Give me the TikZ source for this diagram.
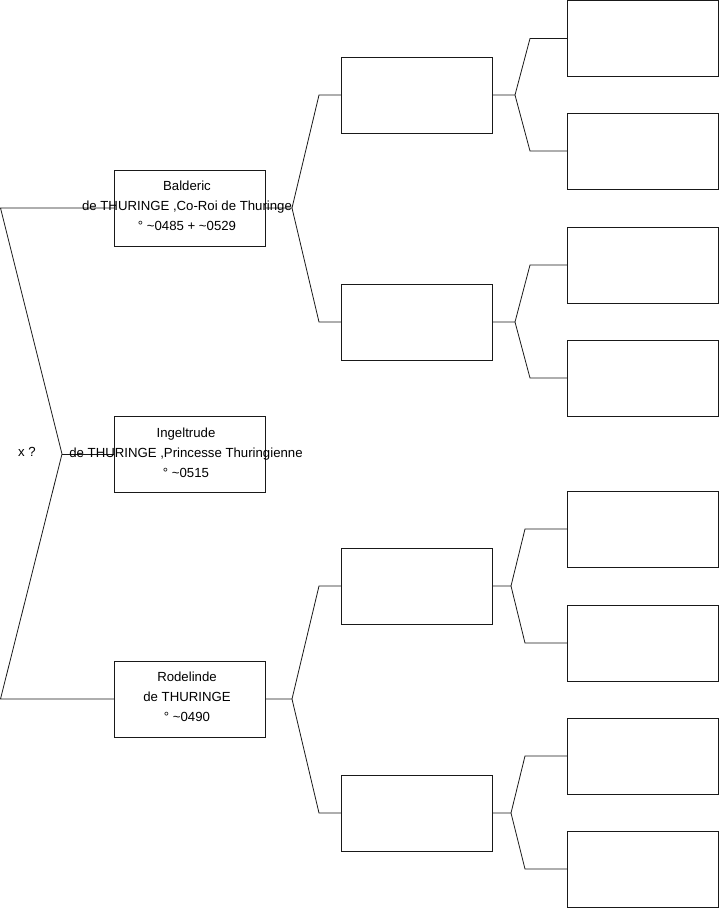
\documentclass[tikz,border=0pt]{standalone}
\usepackage{fontspec}
\setmainfont{Liberation Sans}
\begin{document}
\begin{tikzpicture}[x=1pt,y=-1pt,
  box/.style={draw=black!90, line width=0.8pt, minimum width=151pt, minimum height=76pt, inner sep=0pt, outer sep=0pt},
  txt/.style={align=center, font=\fontsize{13.2}{20}\selectfont, inner sep=0pt},
  conn/.style={draw=black!90, line width=0.8pt}]
\useasboundingbox (0,0) rectangle (719,908);
% left column
\node[box] (bal) at (189.5,208) {};
\node[box] (ing) at (189.5,454) {};
\node[box] (rod) at (189.5,699) {};
% middle column
\node[box] (m1) at (416.5,95) {};
\node[box] (m2) at (416.5,322) {};
\node[box] (m3) at (416.5,586) {};
\node[box] (m4) at (416.5,813) {};
% right column
\node[box] (r1) at (642.5,38.5) {};
\node[box] (r2) at (642.5,151) {};
\node[box] (r3) at (642.5,265) {};
\node[box] (r4) at (642.5,378) {};
\node[box] (r5) at (642.5,529) {};
\node[box] (r6) at (642.5,643) {};
\node[box] (r7) at (642.5,756) {};
\node[box] (r8) at (642.5,869) {};
% junction coordinates
\coordinate (pa) at (0.5,208);
\coordinate (pj) at (62,454);
\coordinate (pc) at (0.5,699);
\coordinate (bj) at (292,208);
\coordinate (b1) at (319,95);
\coordinate (b2) at (319,322);
\coordinate (rj) at (292,699);
\coordinate (q1) at (319,586);
\coordinate (q2) at (319,813);
\coordinate (j1) at (515,95);
\coordinate (j1a) at (530,38.5);
\coordinate (j1b) at (530,151);
\coordinate (j2) at (515,322);
\coordinate (j2a) at (530,265);
\coordinate (j2b) at (530,378);
\coordinate (j3) at (511,586);
\coordinate (j3a) at (525,529);
\coordinate (j3b) at (525,643);
\coordinate (j4) at (511,813);
\coordinate (j4a) at (525,756);
\coordinate (j4b) at (525,869);
% connectors
\draw[conn] (bal.west) -- (pa) -- (pj) -- (pc) -- (rod.west);
\draw[conn] (pj) -- (ing.west);
\draw[conn] (bal.east) -- (bj) -- (b1) -- (m1.west);
\draw[conn] (bj) -- (b2) -- (m2.west);
\draw[conn] (rod.east) -- (rj) -- (q1) -- (m3.west);
\draw[conn] (rj) -- (q2) -- (m4.west);
\draw[conn] (m1.east) -- (j1) -- (j1a) -- (r1.west);
\draw[conn] (j1) -- (j1b) -- (r2.west);
\draw[conn] (m2.east) -- (j2) -- (j2a) -- (r3.west);
\draw[conn] (j2) -- (j2b) -- (r4.west);
\draw[conn] (m3.east) -- (j3) -- (j3a) -- (r5.west);
\draw[conn] (j3) -- (j3b) -- (r6.west);
\draw[conn] (m4.east) -- (j4) -- (j4a) -- (r7.west);
\draw[conn] (j4) -- (j4b) -- (r8.west);
% texts
\node[txt] (baltxt) at (187,206) {Balderic\\de THURINGE ,Co-Roi de Thuringe\\° \textasciitilde0485 + \textasciitilde0529};
\node[txt] (ingtxt) at (186,453) {Ingeltrude\\de THURINGE ,Princesse Thuringienne\\° \textasciitilde0515};
\node[txt] (rodtxt) at (187,697) {Rodelinde\\de THURINGE\\° \textasciitilde0490};
\node[txt] (xq) at (27,452) {x ?};
\end{tikzpicture}
\end{document}
